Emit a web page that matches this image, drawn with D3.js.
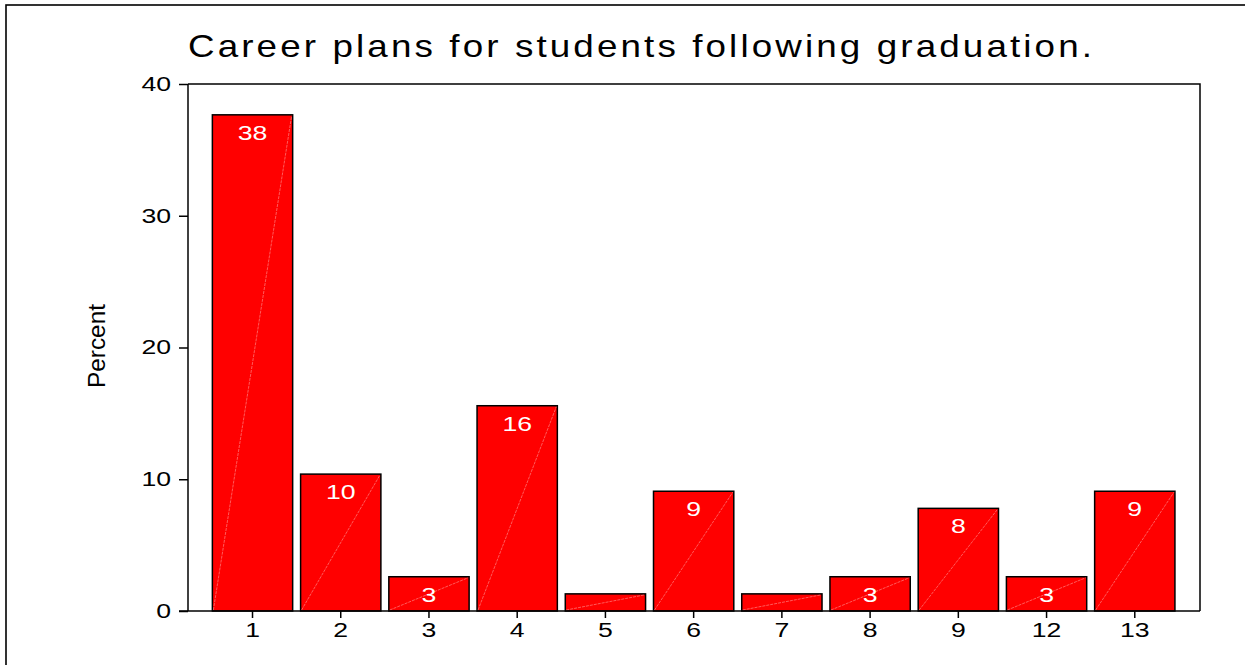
<!DOCTYPE html>
<html>
<head>
<meta charset="utf-8">
<script src="https://cdn.jsdelivr.net/npm/d3@7"></script>
<style>
  html, body { margin: 0; padding: 0; background: #fff; }
  svg { display: block; font-family: "Liberation Sans", Arial, sans-serif; }
</style>
</head>
<body>
<svg id="chart" width="1245" height="665"></svg>
<script>
const categories = ["1", "2", "3", "4", "5", "6", "7", "8", "9", "12", "13"];
const percents = [37.66, 10.39, 2.60, 15.58, 1.30, 9.09, 1.30, 2.60, 7.79, 2.60, 9.09];
const barLabels = ["38", "10", "3", "16", "", "9", "", "3", "8", "3", "9"];
const yTicks = [0, 10, 20, 30, 40];
const titleText = "Career plans for students following graduation.";
const yLabelText = "Percent";

const svg = d3.select("#chart");
const W = 1245, H = 665;
const plot = { left: 188, right: 1200, top: 84, bottom: 611 };
const STRETCH = 1.33;

function stretch(sel, k) {
  sel.each(function () {
    const n = this.getComputedTextLength();
    if (n > 0) {
      d3.select(this).attr("textLength", n * k).attr("lengthAdjust", "spacingAndGlyphs");
    }
  });
}

// outer frame
svg.append("rect")
  .attr("x", 6).attr("y", 5)
  .attr("width", W + 20).attr("height", H + 20)
  .attr("fill", "none").attr("stroke", "#000").attr("stroke-width", 1.6);

const y = d3.scaleLinear().domain([0, 40]).range([plot.bottom, plot.top]);
const x = d3.scaleBand().domain(categories)
  .range([208.4, 1178.9]).paddingInner(0.09).paddingOuter(0.045);

// plot frame (top & right)
svg.append("path")
  .attr("d", `M${plot.left},${plot.top}H${plot.right}V${plot.bottom}`)
  .attr("fill", "none").attr("stroke", "#000").attr("stroke-width", 1.5);

// bars
const g = svg.append("g");
const bars = g.selectAll("g.bar").data(categories).enter().append("g");
bars.append("rect")
  .attr("x", (d) => x(d))
  .attr("y", (d, i) => y(percents[i]))
  .attr("width", x.bandwidth())
  .attr("height", (d, i) => y(0) - y(percents[i]))
  .attr("fill", "#ff0000")
  .attr("stroke", "#000").attr("stroke-width", 1.5);
bars.append("line")
  .attr("x1", (d) => x(d) + 1)
  .attr("y1", y(0) - 1)
  .attr("x2", (d) => x(d) + x.bandwidth() - 1)
  .attr("y2", (d, i) => y(percents[i]) + 1)
  .attr("stroke", "#ffffff").attr("stroke-opacity", 0.45)
  .attr("stroke-width", 0.8).attr("stroke-dasharray", "3,1");
const bl = bars.append("text")
  .attr("x", (d) => x(d) + x.bandwidth() / 2)
  .attr("y", (d, i) => y(percents[i]) + 25)
  .attr("text-anchor", "middle")
  .attr("fill", "#fff")
  .attr("font-size", 20)
  .text((d, i) => barLabels[i]);
stretch(bl, STRETCH);

// y axis
const yAxis = d3.axisLeft(y).tickValues(yTicks).tickSize(9).tickPadding(8).tickFormat(d3.format("d"));
const yg = svg.append("g").attr("transform", `translate(${plot.left},0)`).call(yAxis);
yg.select(".domain").attr("stroke-width", 1.5).attr("d", `M0,${plot.top}V${plot.bottom}`);
yg.selectAll(".tick line").attr("stroke-width", 1.5);
const yt = yg.selectAll(".tick text").attr("font-size", 20).attr("font-family", "Liberation Sans, Arial, sans-serif").attr("fill", "#000");
stretch(yt, STRETCH);

// x axis
const xAxis = d3.axisBottom(x).tickSize(7).tickPadding(5);
const xg = svg.append("g").attr("transform", `translate(0,${plot.bottom})`).call(xAxis);
xg.select(".domain").attr("stroke-width", 1.5).attr("d", `M${plot.left - 9},0H${plot.right}`);
xg.selectAll(".tick line").attr("stroke-width", 1.5);
const xt = xg.selectAll(".tick text").attr("font-size", 20).attr("font-family", "Liberation Sans, Arial, sans-serif").attr("fill", "#000");
stretch(xt, STRETCH);

// title (slightly widened glyphs plus extra spacing)
const TS = 1.15;
svg.append("text")
  .attr("transform", `translate(188,57) scale(${TS},1)`)
  .attr("font-size", 32)
  .attr("textLength", 904 / TS).attr("lengthAdjust", "spacing")
  .attr("fill", "#000")
  .text(titleText);

// y label
svg.append("text")
  .attr("transform", "translate(105,346) rotate(-90)")
  .attr("text-anchor", "middle")
  .attr("font-size", 24)
  .attr("textLength", 84).attr("lengthAdjust", "spacingAndGlyphs")
  .attr("fill", "#000")
  .text(yLabelText);
</script>
</body>
</html>
